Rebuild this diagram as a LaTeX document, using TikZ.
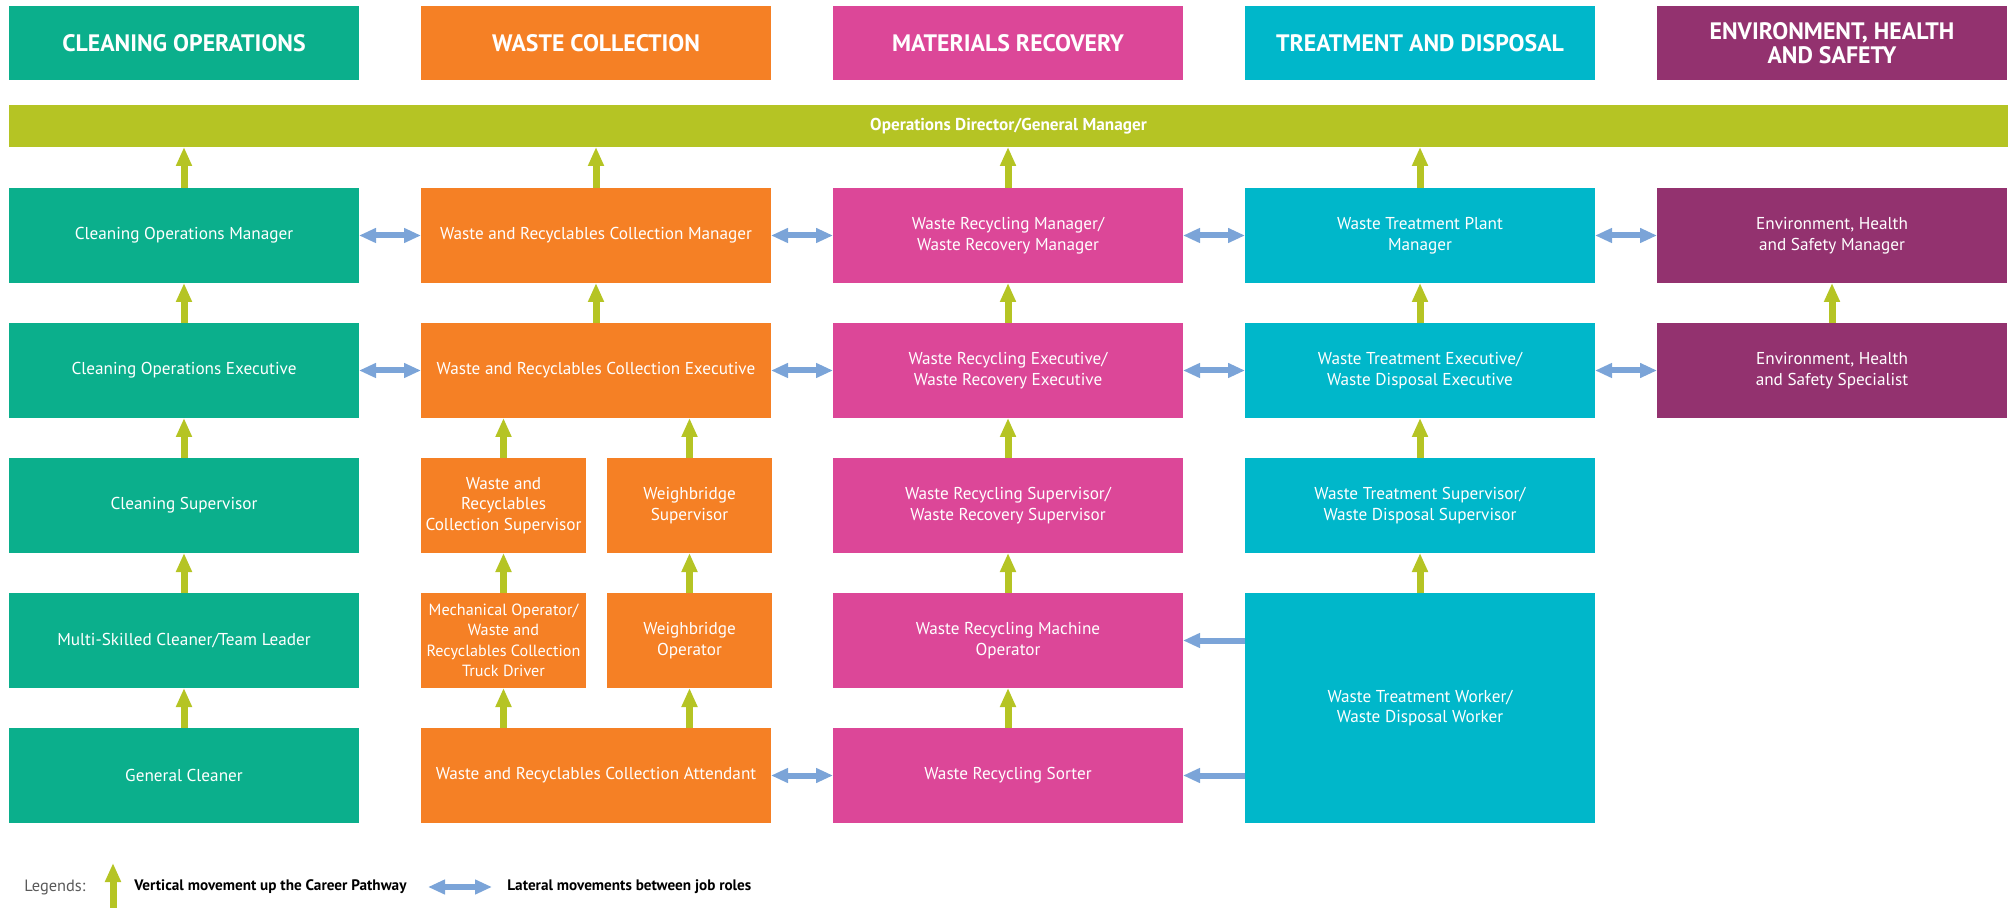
\documentclass[tikz,border=0pt]{standalone}
\usepackage{fontspec}
\setmainfont{PT Sans}
\usetikzlibrary{arrows.meta}
\definecolor{cocol}{RGB}{11,175,140}
\definecolor{wccol}{RGB}{245,128,37}
\definecolor{mrcol}{RGB}{220,71,152}
\definecolor{tdcol}{RGB}{0,183,202}
\definecolor{ehscol}{RGB}{147,50,111}
\definecolor{barcol}{RGB}{181,196,36}
\definecolor{blucol}{RGB}{123,164,216}
\definecolor{leggray}{RGB}{90,90,90}
\tikzset{
  box/.style={fill=#1, text=white, inner sep=0pt, outer sep=0pt, align=center,
    minimum width=175pt, minimum height=47.5pt, font=\fontsize{8.6}{10.4}\selectfont},
  subbox/.style={box=#1, minimum width=82.5pt},
  hdr/.style={fill=#1, text=white, inner sep=0pt, outer sep=0pt, align=center,
    minimum width=175pt, minimum height=37pt, font=\bfseries\fontsize{11.9}{12.2}\selectfont},
  varrow/.style={draw=barcol, line width=3.5pt, -{Triangle[width=7.5pt,length=9.5pt]}},
  larrow/.style={draw=blucol, line width=3pt, {Triangle[width=7pt,length=8.5pt]}-{Triangle[width=7pt,length=8.5pt]}},
  larrowL/.style={draw=blucol, line width=3pt, -{Triangle[width=7pt,length=8.5pt]}},
  legtext/.style={anchor=west, inner sep=0pt, font=\bfseries\fontsize{7.6}{9}\selectfont}
}
\begin{document}
\begin{tikzpicture}[x=0.5pt, y=-0.5pt]
\useasboundingbox (0,0) rectangle (2011,908);
% headers
\node[hdr=cocol] (hco) at (184,43) {CLEANING OPERATIONS};
\node[hdr=wccol] (hwc) at (596,43) {WASTE COLLECTION};
\node[hdr=mrcol] (hmr) at (1008,43) {MATERIALS RECOVERY};
\node[hdr=tdcol] (htd) at (1420,43) {TREATMENT AND DISPOSAL};
\node[hdr=ehscol] (hehs) at (1832,43) {ENVIRONMENT, HEALTH\\AND SAFETY};
% bar
\node[fill=barcol, text=white, inner sep=0pt, outer sep=0pt, minimum width=999.5pt, minimum height=21pt,
  font=\bfseries\fontsize{8.6}{10}\selectfont] (bar) at (1008.5,126) {Operations Director/General Manager};
% cleaning operations
\node[box=cocol] (co1) at (184,235.5) {Cleaning Operations Manager};
\node[box=cocol] (co2) at (184,370.5) {Cleaning Operations Executive};
\node[box=cocol] (co3) at (184,505.5) {Cleaning Supervisor};
\node[box=cocol] (co4) at (184,640.5) {Multi-Skilled Cleaner/Team Leader};
\node[box=cocol] (co5) at (184,775.5) {General Cleaner};
% waste collection
\node[box=wccol] (wc1) at (596,235.5) {Waste and Recyclables Collection Manager};
\node[box=wccol] (wc2) at (596,370.5) {Waste and Recyclables Collection Executive};
\node[subbox=wccol] (wc3a) at (503.5,505.5) {Waste and\\Recyclables\\Collection Supervisor};
\node[subbox=wccol] (wc3b) at (689.5,505.5) {Weighbridge\\Supervisor};
\node[subbox=wccol, font=\fontsize{8.1}{10.2}\selectfont] (wc4a) at (503.5,640.5) {Mechanical Operator/\\Waste and\\Recyclables Collection\\Truck Driver};
\node[subbox=wccol] (wc4b) at (689.5,640.5) {Weighbridge\\Operator};
\node[box=wccol] (wc5) at (596,775.5) {Waste and Recyclables Collection Attendant};
% materials recovery
\node[box=mrcol] (mr1) at (1008,235.5) {Waste Recycling Manager/\\Waste Recovery Manager};
\node[box=mrcol] (mr2) at (1008,370.5) {Waste Recycling Executive/\\Waste Recovery Executive};
\node[box=mrcol] (mr3) at (1008,505.5) {Waste Recycling Supervisor/\\Waste Recovery Supervisor};
\node[box=mrcol] (mr4) at (1008,640.5) {Waste Recycling Machine\\Operator};
\node[box=mrcol] (mr5) at (1008,775.5) {Waste Recycling Sorter};
% treatment and disposal
\node[box=tdcol] (td1) at (1420,235.5) {Waste Treatment Plant\\Manager};
\node[box=tdcol] (td2) at (1420,370.5) {Waste Treatment Executive/\\Waste Disposal Executive};
\node[box=tdcol] (td3) at (1420,505.5) {Waste Treatment Supervisor/\\Waste Disposal Supervisor};
\node[box=tdcol, minimum height=115pt] (td45) at (1420,708) {Waste Treatment Worker/\\Waste Disposal Worker};
% EHS
\node[box=ehscol] (ehs1) at (1832,235.5) {Environment, Health\\and Safety Manager};
\node[box=ehscol] (ehs2) at (1832,370.5) {Environment, Health\\and Safety Specialist};
% vertical arrows
\foreach \n in {co1,wc1,mr1,td1}{\draw[varrow] (\n.north) -- (\n.north |- bar.south);}
\draw[varrow] (co2.north) -- (co1.south);
\draw[varrow] (co3.north) -- (co2.south);
\draw[varrow] (co4.north) -- (co3.south);
\draw[varrow] (co5.north) -- (co4.south);
\draw[varrow] (wc2.north) -- (wc1.south);
\draw[varrow] (wc3a.north) -- (wc3a.north |- wc2.south);
\draw[varrow] (wc3b.north) -- (wc3b.north |- wc2.south);
\draw[varrow] (wc4a.north) -- (wc3a.south);
\draw[varrow] (wc4b.north) -- (wc3b.south);
\draw[varrow] (wc4a.south |- wc5.north) -- (wc4a.south);
\draw[varrow] (wc4b.south |- wc5.north) -- (wc4b.south);
\draw[varrow] (mr2.north) -- (mr1.south);
\draw[varrow] (mr3.north) -- (mr2.south);
\draw[varrow] (mr4.north) -- (mr3.south);
\draw[varrow] (mr5.north) -- (mr4.south);
\draw[varrow] (td2.north) -- (td1.south);
\draw[varrow] (td3.north) -- (td2.south);
\draw[varrow] (td45.north) -- (td3.south);
\draw[varrow] (ehs2.north) -- (ehs1.south);
% lateral arrows
\draw[larrow] (co1.east) -- (wc1.west);
\draw[larrow] (wc1.east) -- (mr1.west);
\draw[larrow] (mr1.east) -- (td1.west);
\draw[larrow] (td1.east) -- (ehs1.west);
\draw[larrow] (co2.east) -- (wc2.west);
\draw[larrow] (wc2.east) -- (mr2.west);
\draw[larrow] (mr2.east) -- (td2.west);
\draw[larrow] (td2.east) -- (ehs2.west);
\draw[larrow] (wc5.east) -- (mr5.west);
\draw[larrowL] (td45.west |- mr4.east) -- (mr4.east);
\draw[larrowL] (td45.west |- mr5.east) -- (mr5.east);
% legend
\node[anchor=west, inner sep=0pt, text=leggray, font=\fontsize{8.2}{9}\selectfont] (leg) at (24,887) {Legends:};
\coordinate (lgA) at (113,910);
\coordinate (lgB) at (113,863);
\draw[varrow] (lgA) -- (lgB);
\node[legtext] (legv) at (134,887) {Vertical movement up the Career Pathway};
\coordinate (lbA) at (428,887);
\coordinate (lbB) at (492,887);
\draw[larrow] (lbA) -- (lbB);
\node[legtext] (legl) at (507,887) {Lateral movements between job roles};
\end{tikzpicture}
\end{document}
